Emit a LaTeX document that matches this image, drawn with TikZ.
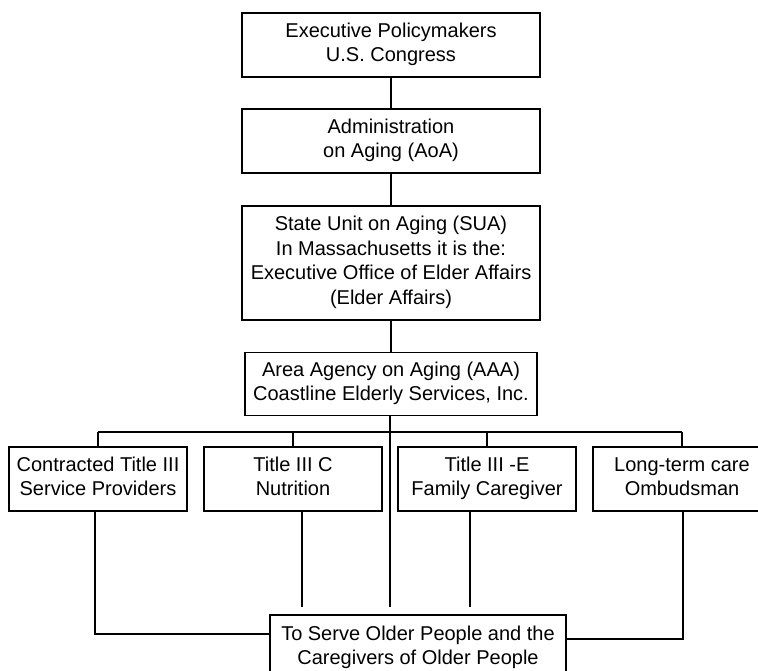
\documentclass[tikz,border=0pt]{standalone}
\usepackage{fontspec}
\setmainfont{Liberation Sans}
\newcommand\lstrut{\rule[-5.05pt]{0pt}{24.5pt}}
\begin{document}
\begin{tikzpicture}[x=1pt,y=-1pt,
  box/.style={draw, line width=1.2pt, align=center, inner sep=0pt,
    font=\fontsize{20}{24.5}\selectfont,
    execute at begin node=\lstrut, execute at end node=\lstrut},
  wide/.style={box, minimum width=298pt},
  small/.style={box, minimum width=178pt, minimum height=64pt},
  conn/.style={line width=1.2pt}]
\useasboundingbox (0,0) rectangle (758,671);
\clip (0,0) rectangle (758,671);
\fill[white] (0,0) rectangle (758,671);
% main column
\node[wide, minimum height=64pt] (ep) at (391,45) {Executive Policymakers\\U.S. Congress};
\node[wide, minimum height=64pt] (aoa) at (391,141) {Administration\\on Aging (AoA)};
\node[wide, minimum height=114pt] (sua) at (391,263) {State Unit on Aging (SUA)\\In Massachusetts it is the:\\Executive Office of Elder Affairs\\(Elder Affairs)};
\node[box, minimum width=292pt, minimum height=63pt] (aaa) at (391,384) {Area Agency on Aging (AAA)\\Coastline Elderly Services, Inc.};
% row of providers
\node[small] (ca) at (98,479) {Contracted Title III\\Service Providers};
\node[small] (tc) at (293,479) {Title III C\\Nutrition};
\node[small] (te) at (487,479) {Title III -E\\Family Caregiver};
\node[small] (lt) at (682,479) {Long-term care\\Ombudsman};
% bottom box
\node[box, minimum width=296pt, minimum height=66pt] (serve) at (418,648) {To Serve Older People and the\\Caregivers of Older People};
% coordinates
\coordinate (bus) at (0,432);
\coordinate (gap) at (0,607);
\coordinate (xa) at (95,0);
\coordinate (xb) at (302,0);
\coordinate (xm) at (390,0);
\coordinate (xc) at (470,0);
\coordinate (xd) at (683,0);
\coordinate (ya) at (0,634);
\coordinate (yd) at (0,639);
% connectors
\draw[conn] (ep.south) -- (aoa.north);
\draw[conn] (aoa.south) -- (sua.north);
\draw[conn] (sua.south) -- (aaa.north);
\draw[conn] (aaa.south -| xm) -- (xm |- gap);
\draw[conn] (ca.north |- bus) -- (lt.north |- bus);
\draw[conn] (ca.north |- bus) -- (ca.north);
\draw[conn] (tc.north |- bus) -- (tc.north);
\draw[conn] (te.north |- bus) -- (te.north);
\draw[conn] (lt.north |- bus) -- (lt.north);
\draw[conn] (ca.south -| xa) -- (xa |- ya) -- (serve.west |- ya);
\draw[conn] (tc.south -| xb) -- (xb |- gap);
\draw[conn] (te.south -| xc) -- (xc |- gap);
\draw[conn] (lt.south -| xd) -- (xd |- yd) -- (serve.east |- yd);
\end{tikzpicture}
\end{document}
